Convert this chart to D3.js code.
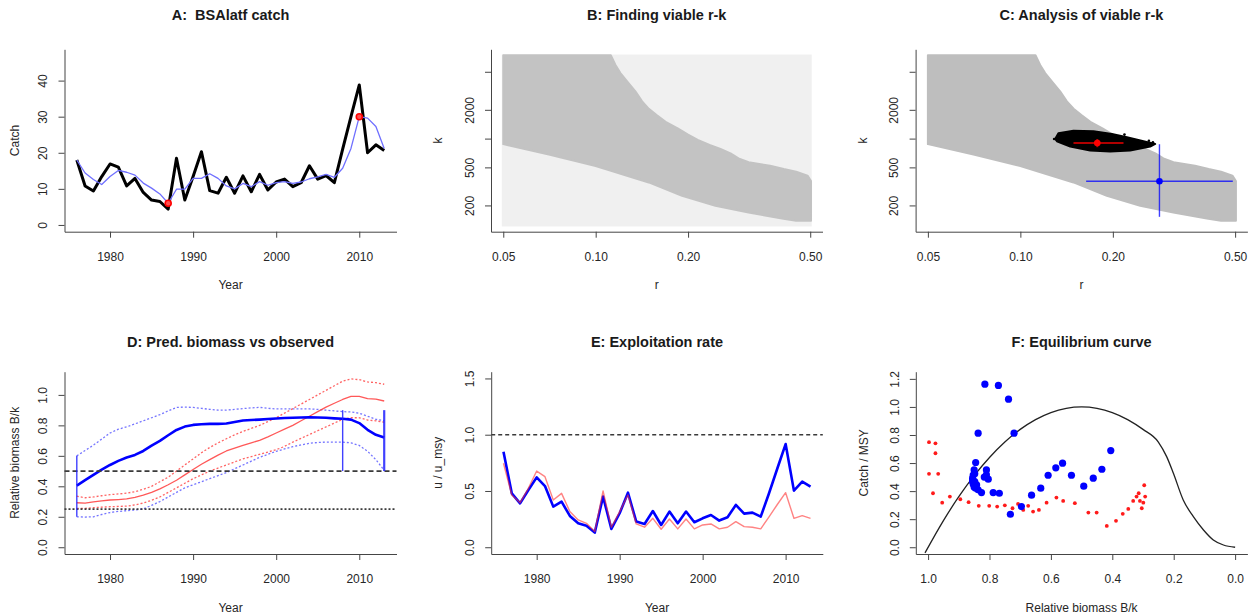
<!DOCTYPE html>
<html><head><meta charset="utf-8">
<script src="https://cdn.jsdelivr.net/npm/d3@7"></script>
<style>
body{margin:0;background:#fff;}
svg{display:block;font-family:"Liberation Sans",Arial,sans-serif;}
</style></head><body>
<script>
// ---------- data ----------
const years = [1976,1977,1978,1979,1980,1981,1982,1983,1984,1985,1986,1987,1988,1989,1990,1991,1992,1993,1994,1995,
  1996,1997,1998,1999,2000,2001,2002,2003,2004,2005,2006,2007,2008,2009,2010,2011,2012,2013];

// A: catch
const catchObs = [18,10.8,9.4,13.4,16.9,16,10.8,12.9,9,6.9,6.5,4.4,18.5,6.9,13.4,20.3,9.5,8.8,13.2,8.8,
  13.6,9.2,14,9.7,11.9,12.7,10.6,11.7,16.4,12.7,13.7,11.7,21,30,38.8,20,22.2,20.6];
const catchSmooth = [18,14.4,12.6,11.2,13.4,15.1,14.6,13.8,11.6,10.2,8.6,6,9.9,9.9,12.9,12.9,14.2,12.9,10.8,10,
  11.5,10.6,12,11,11.7,12,11.5,11.9,12.8,13.3,14,13.2,15.7,21.2,30,29.6,27.3,21.2];
const catchMarkYears = [1987, 2010];
const catchMarkValues = [6, 30];

// B, C: r-k space
const rTicks = [0.05, 0.1, 0.2, 0.5];
const rTickLabels = ["0.05", "0.10", "0.20", "0.50"];
const kTicks = [200, 500, 1000, 2000, 5000];
const kTickLabels = ["200", "500", "", "2000", ""];
const priorR = [0.05, 0.5];
const priorK = [125, 7300];
// outline of the viable r-k region
const viableR = [0.05,0.112,0.116,0.1204,0.1266,0.1347,0.1417,0.149,0.158,0.169,0.185,0.200,0.215,0.235,0.255,0.275,
  0.292,0.315,0.370,0.410,0.450,0.490,0.503,0.503,0.450,0.4045,0.3148,0.2455,0.1912,0.1489,0.100,0.0704,0.05];
const viableK = [7450,7450,5900,4840,3960,3120,2455,2050,1760,1500,1280,1100,970,860,780,700,
  620,565,520,480,450,410,360,138,138,146,169,198,252,348,515,682,875];
// outline of the accepted r-k cloud
const cloudR = [0.1298,0.1330,0.1489,0.173,0.1986,0.2222,0.2516,0.2747,0.2645,0.2277,0.196,0.1687,0.1453,0.1315];
const cloudK = [991,1135,1211,1191,1117,1032,938,879,826,751,733,751,826,938];
const strayR = [0.1288, 0.2182, 0.270, 0.262];
const strayK = [991, 1101, 916, 948];
const estR = [0.178, 0.2836];
const estK = [901, 358];
const estRLow = [0.1489, 0.1637];
const estRHigh = [0.2166, 0.4914];
const estKLow = [813, 152];
const estKHigh = [991, 873];

// D: relative biomass
const bkBsm = [0.405,0.44,0.475,0.51,0.54,0.567,0.589,0.606,0.632,0.667,0.698,0.735,0.77,0.792,0.803,0.807,0.81,0.81,0.812,0.822,
  0.832,0.835,0.838,0.842,0.845,0.848,0.85,0.852,0.853,0.852,0.85,0.846,0.843,0.838,0.815,0.771,0.738,0.72];
const bkBsmHi = [0.60,0.635,0.67,0.71,0.75,0.775,0.79,0.81,0.83,0.85,0.87,0.895,0.918,0.92,0.918,0.912,0.905,0.9,0.9,0.905,
  0.91,0.915,0.918,0.912,0.908,0.908,0.908,0.908,0.908,0.905,0.9,0.895,0.89,0.888,0.88,0.86,0.84,0.83];
const bkBsmLo = [0.2,0.198,0.2,0.215,0.228,0.235,0.24,0.245,0.252,0.275,0.3,0.33,0.36,0.39,0.41,0.43,0.45,0.47,0.49,0.515,
  0.54,0.565,0.59,0.61,0.63,0.645,0.66,0.672,0.682,0.688,0.69,0.69,0.69,0.685,0.668,0.63,0.575,0.505];
const bkCmsy = [0.292,0.29,0.298,0.305,0.31,0.313,0.317,0.328,0.342,0.36,0.383,0.41,0.44,0.475,0.51,0.545,0.575,0.605,0.632,0.65,
  0.668,0.685,0.702,0.725,0.75,0.775,0.8,0.83,0.86,0.89,0.92,0.945,0.97,0.99,0.99,0.975,0.972,0.96];
const bkCmsyHi = [0.335,0.325,0.33,0.338,0.345,0.35,0.355,0.365,0.38,0.4,0.43,0.46,0.5,0.54,0.58,0.62,0.655,0.685,0.712,0.738,
  0.76,0.78,0.8,0.825,0.85,0.88,0.91,0.94,0.97,1.0,1.03,1.06,1.09,1.105,1.1,1.085,1.08,1.07];
const bkCmsyLo = [0.255,0.255,0.26,0.263,0.266,0.268,0.27,0.278,0.29,0.308,0.33,0.36,0.39,0.42,0.45,0.475,0.5,0.52,0.54,0.56,
  0.58,0.595,0.61,0.625,0.64,0.662,0.69,0.715,0.74,0.765,0.79,0.815,0.84,0.85,0.85,0.835,0.83,0.82];
const bkPriorYears = [1976, 2008, 2013];
const bkPriorLow = [0.2, 0.5, 0.5];
const bkPriorHigh = [0.6, 0.9, 0.9];
const bkRefLines = [0.5, 0.25];

// E: exploitation rate
const uBsm = [0.849,0.479,0.39,0.509,0.621,0.544,0.361,0.405,0.278,0.213,0.192,0.13,0.45,0.163,0.302,0.485,0.228,0.207,0.322,0.198,
  0.317,0.213,0.317,0.222,0.257,0.287,0.237,0.266,0.376,0.299,0.308,0.272,0.48,0.70,0.917,0.503,0.583,0.538];
const uCmsy = [0.746,0.464,0.396,0.524,0.677,0.627,0.42,0.479,0.317,0.243,0.213,0.139,0.5,0.178,0.317,0.464,0.207,0.178,0.257,0.16,
  0.251,0.163,0.251,0.163,0.198,0.207,0.163,0.178,0.228,0.183,0.178,0.163,0.27,0.38,0.485,0.257,0.281,0.257];

// F: equilibrium curve
const eqB = [1.01,0.95,0.9,0.85,0.8,0.75,0.7,0.65,0.6,0.55,0.5,0.45,0.4,0.35,0.3,0.25,0.223,0.201,0.169,0.136,0.103,0.071,0.038,0];
const eqC = [-0.04,0.19,0.36,0.51,0.64,0.75,0.84,0.91,0.96,0.99,1.0,0.99,0.96,0.91,0.84,0.75,0.646,0.527,0.337,0.218,0.123,0.052,0.016,0];
const fBsmB = [0.405,0.434,0.462,0.493,0.533,0.562,0.584,0.609,0.633,0.663,0.696,0.732,0.768,0.788,0.804,0.81,0.81,0.817,0.826,0.837,
  0.842,0.845,0.848,0.85,0.853,0.855,0.853,0.855,0.855,0.853,0.85,0.848,0.845,0.837,0.815,0.771,0.738,0.72];
const fBsmC = [0.689,0.556,0.492,0.435,0.513,0.599,0.566,0.513,0.421,0.371,0.29,0.235,0.385,0.39,0.485,0.516,0.551,0.5,0.39,0.409,
  0.444,0.42,0.468,0.43,0.47,0.47,0.45,0.47,0.492,0.515,0.551,0.523,0.604,0.813,1.162,1.153,1.055,0.813];
const fCmsyB = [0.296,0.293,0.299,0.304,0.31,0.314,0.321,0.332,0.348,0.366,0.388,0.418,0.451,0.478,0.522,0.56,0.582,0.614,0.639,0.658,
  0.674,0.69,0.707,0.725,0.75,0.775,0.801,0.835,0.868,0.895,0.929,0.954,0.984,0.997,0.997,0.976,0.976,0.967];
const fCmsyC = [0.442,0.361,0.318,0.278,0.33,0.385,0.361,0.33,0.273,0.238,0.188,0.152,0.247,0.247,0.314,0.33,0.354,0.318,0.266,0.254,
  0.295,0.266,0.309,0.278,0.299,0.29,0.295,0.295,0.321,0.342,0.361,0.318,0.385,0.523,0.749,0.741,0.670,0.523];

// ---------- layout ----------
const W = 1256, H = 616;
const INK = "#262626", AXIS = "#454545";
const svg = d3.select("body").append("svg").attr("width", W).attr("height", H);
svg.append("rect").attr("width", W).attr("height", H).attr("fill", "#fff");

const boxA = {x0:64.5, x1:396.5, y0:49.3, y1:231.7, ty:15};
const boxB = {x0:491, x1:822.5, y0:49.3, y1:231.7, ty:15};
const boxC = {x0:915.6, x1:1247.4, y0:49.3, y1:231.7, ty:15};
const boxD = {x0:64.5, x1:396.5, y0:371.7, y1:554, ty:342.3};
const boxE = {x0:491.2, x1:822.8, y0:371.7, y1:554, ty:342.3};
const boxF = {x0:915.8, x1:1247.4, y0:371.7, y1:554, ty:342.3};

function padLin(lo, hi) { const s = (hi - lo) * 0.04; return [lo - s, hi + s]; }
function padLog(lo, hi) {
  const a = Math.log10(lo), b = Math.log10(hi), s = (b - a) * 0.04;
  return [Math.pow(10, a - s), Math.pow(10, b + s)];
}

// L-shaped frame with outward ticks, rotated y labels and titles
function frame(box, xs, ys, o) {
  const g = svg.append("g");
  const ax = g.append("g").attr("transform", `translate(0,${box.y1})`)
    .call(d3.axisBottom(xs).tickValues(o.xt).tickFormat((d, i) => o.xl[i]).tickSize(6).tickSizeOuter(0));
  const ay = g.append("g").attr("transform", `translate(${box.x0},0)`)
    .call(d3.axisLeft(ys).tickValues(o.yt).tickFormat((d, i) => o.yl[i]).tickSize(6).tickSizeOuter(0));
  [ax, ay].forEach(a => {
    a.attr("font-family", null).attr("font-size", 12).attr("color", AXIS);
    a.selectAll("text").attr("fill", INK);
  });
  ax.selectAll("text").attr("y", 25).attr("dy", "0.35em");
  ay.selectAll("text").attr("x", 0).attr("y", -21.5).attr("dy", "0.35em")
    .attr("text-anchor", "middle").attr("transform", "rotate(-90)");
  const cx = (box.x0 + box.x1) / 2, cy = (box.y0 + box.y1) / 2;
  g.append("text").attr("x", cx).attr("y", box.y1 + 53.5).attr("dy", "0.35em")
    .attr("text-anchor", "middle").attr("font-size", 12).attr("fill", INK).text(o.xlab);
  g.append("text").attr("transform", `translate(${box.x0 - o.ylabOff},${cy}) rotate(-90)`).attr("dy", "0.35em")
    .attr("text-anchor", "middle").attr("font-size", 12).attr("fill", INK).text(o.ylab);
  g.append("text").attr("x", cx).attr("y", box.ty).attr("dy", "0.35em")
    .attr("text-anchor", "middle").attr("font-size", 14.5).attr("font-weight", "bold")
    .attr("fill", "#1a1a1a").style("white-space", "pre").text(o.title);
}

const yearTicks = [1980, 1990, 2000, 2010];
const yearLabels = ["1980", "1990", "2000", "2010"];

// ---------- A: catch ----------
{
  const x = d3.scaleLinear().domain(padLin(1976, 2013)).range([boxA.x0, boxA.x1]);
  const y = d3.scaleLinear().domain(padLin(0, 46.8)).range([boxA.y1, boxA.y0]);
  const line = d3.line().x((d, i) => x(years[i])).y(d => y(d));
  svg.append("path").attr("d", line(catchObs)).attr("fill", "none").attr("stroke", "#000")
    .attr("stroke-width", 3).attr("stroke-linejoin", "round");
  svg.append("path").attr("d", line(catchSmooth)).attr("fill", "none").attr("stroke", "#6f6fff")
    .attr("stroke-width", 1.3).attr("stroke-linejoin", "round");
  svg.selectAll(null).data(catchMarkYears).join("circle")
    .attr("cx", d => x(d)).attr("cy", (d, i) => y(catchMarkValues[i])).attr("r", 3)
    .attr("fill", "#ff5050").attr("stroke", "#ff0000").attr("stroke-width", 1.6);
  frame(boxA, x, y, {xt: yearTicks, xl: yearLabels, yt: [0,10,20,30,40], yl: ["0","10","20","30","40"],
    xlab: "Year", ylab: "Catch", ylabOff: 50, title: "A:  BSAlatf catch"});
}

// shared r-k scales
function rkScales(box) {
  return {
    x: d3.scaleLog().domain(padLog(priorR[0], priorR[1])).range([box.x0, box.x1]),
    y: d3.scaleLog().domain(padLog(priorK[0], priorK[1])).range([box.y1, box.y0])
  };
}
function polyPath(sx, sy, rs, ks) {
  return d3.line().x(d => sx(d)).y((d, i) => sy(ks[i])).curve(d3.curveLinearClosed)(rs);
}

// ---------- B: viable r-k ----------
{
  const {x, y} = rkScales(boxB);
  svg.append("rect").attr("x", x(priorR[0]) - 1.5).attr("y", y(priorK[1]) - 1.5)
    .attr("width", x(priorR[1]) - x(priorR[0]) + 3).attr("height", y(priorK[0]) - y(priorK[1]) + 3)
    .attr("fill", "#f0f0f0");
  svg.append("path").attr("d", polyPath(x, y, viableR, viableK)).attr("fill", "#c3c3c3")
    .attr("stroke", "#c3c3c3").attr("stroke-width", 2).attr("stroke-linejoin", "round");
  frame(boxB, x, y, {xt: rTicks, xl: rTickLabels, yt: kTicks, yl: kTickLabels,
    xlab: "r", ylab: "k", ylabOff: 53, title: "B: Finding viable r-k"});
}

// ---------- C: analysis of viable r-k ----------
{
  const {x, y} = rkScales(boxC);
  svg.append("path").attr("d", polyPath(x, y, viableR, viableK)).attr("fill", "#bebebe")
    .attr("stroke", "#bebebe").attr("stroke-width", 2).attr("stroke-linejoin", "round");
  svg.append("path").attr("d", polyPath(x, y, cloudR, cloudK)).attr("fill", "#000")
    .attr("stroke", "#000").attr("stroke-width", 2).attr("stroke-linejoin", "round");
  svg.selectAll(null).data(strayR).join("circle")
    .attr("cx", d => x(d)).attr("cy", (d, i) => y(strayK[i])).attr("r", 1.3).attr("fill", "#000");
  const cols = ["#b00000", "#0000ff"], dots = ["#ff0000", "#0000ff"];
  estR.forEach((r, i) => {
    svg.append("line").attr("x1", x(estRLow[i])).attr("x2", x(estRHigh[i]))
      .attr("y1", y(estK[i])).attr("y2", y(estK[i])).attr("stroke", cols[i]).attr("stroke-width", i ? 1.4 : 2)
      .attr("stroke-opacity", i ? 0.75 : 1);
    svg.append("line").attr("x1", x(r)).attr("x2", x(r))
      .attr("y1", y(estKLow[i])).attr("y2", y(estKHigh[i])).attr("stroke", cols[i]).attr("stroke-width", i ? 1.4 : 2)
      .attr("stroke-opacity", i ? 0.75 : 1);
    svg.append("circle").attr("cx", x(r)).attr("cy", y(estK[i])).attr("r", 3.3).attr("fill", dots[i]);
  });
  frame(boxC, x, y, {xt: rTicks, xl: rTickLabels, yt: kTicks, yl: kTickLabels,
    xlab: "r", ylab: "k", ylabOff: 53, title: "C: Analysis of viable r-k"});
}

// ---------- D: predicted biomass ----------
{
  const x = d3.scaleLinear().domain(padLin(1976, 2013)).range([boxD.x0, boxD.x1]);
  const y = d3.scaleLinear().domain(padLin(0, 1.108)).range([boxD.y1, boxD.y0]);
  const line = d3.line().x((d, i) => x(years[i])).y(d => y(d));
  const draw = (arr, col, w, dash, op) => svg.append("path").attr("d", line(arr)).attr("fill", "none")
    .attr("stroke", col).attr("stroke-width", w).attr("stroke-dasharray", dash).attr("stroke-opacity", op)
    .attr("stroke-linejoin", "round");
  draw(bkBsmHi, "#3b3bff", 1.3, "2,2", 0.7);
  draw(bkBsmLo, "#3b3bff", 1.3, "2,2", 0.7);
  draw(bkCmsyHi, "#ff3030", 1.3, "2,2", 0.75);
  draw(bkCmsyLo, "#ff3030", 1.3, "2,2", 0.75);
  draw(bkCmsy, "#ff3b3b", 1.3, null, 0.85);
  draw(bkBsm, "#0000ff", 2.6, null, 1);
  bkRefLines.forEach((v, i) => svg.append("line").attr("x1", boxD.x0).attr("x2", boxD.x1)
    .attr("y1", y(v)).attr("y2", y(v)).attr("stroke", "#3a3a3a").attr("stroke-width", 1.6)
    .attr("stroke-dasharray", i ? "2,2" : "5,3"));
  bkPriorYears.forEach((yr, i) => svg.append("line").attr("x1", x(yr)).attr("x2", x(yr))
    .attr("y1", y(bkPriorLow[i])).attr("y2", y(bkPriorHigh[i])).attr("stroke", "#2020ff")
    .attr("stroke-width", i === 2 ? 2.2 : 1.4).attr("stroke-opacity", 0.85));
  frame(boxD, x, y, {xt: yearTicks, xl: yearLabels, yt: [0,0.2,0.4,0.6,0.8,1.0],
    yl: ["0.0","0.2","0.4","0.6","0.8","1.0"], xlab: "Year", ylab: "Relative biomass B/k", ylabOff: 50,
    title: "D: Pred. biomass vs observed"});
}

// ---------- E: exploitation rate ----------
{
  const x = d3.scaleLinear().domain(padLin(1976, 2013)).range([boxE.x0, boxE.x1]);
  const y = d3.scaleLinear().domain(padLin(0, 1.5)).range([boxE.y1, boxE.y0]);
  const line = d3.line().x((d, i) => x(years[i])).y(d => y(d));
  svg.append("line").attr("x1", boxE.x0).attr("x2", boxE.x1).attr("y1", y(1)).attr("y2", y(1))
    .attr("stroke", "#3a3a3a").attr("stroke-width", 1.4).attr("stroke-dasharray", "4,3");
  svg.append("path").attr("d", line(uBsm)).attr("fill", "none").attr("stroke", "#0000ff")
    .attr("stroke-width", 2.6).attr("stroke-linejoin", "round");
  svg.append("path").attr("d", line(uCmsy)).attr("fill", "none").attr("stroke", "#ff3030")
    .attr("stroke-width", 1.4).attr("stroke-opacity", 0.6).attr("stroke-linejoin", "round");
  frame(boxE, x, y, {xt: yearTicks, xl: yearLabels, yt: [0,0.5,1.0,1.5], yl: ["0.0","0.5","1.0","1.5"],
    xlab: "Year", ylab: "u / u_msy", ylabOff: 53, title: "E: Exploitation rate"});
}

// ---------- F: equilibrium curve ----------
{
  const x = d3.scaleLinear().domain(padLin(0, 1).reverse()).range([boxF.x0, boxF.x1]);
  const y = d3.scaleLinear().domain(padLin(0, 1.203)).range([boxF.y1, boxF.y0]);
  svg.append("path").attr("d", d3.line().x(d => x(d)).y((d, i) => y(eqC[i])).curve(d3.curveMonotoneX)(eqB))
    .attr("fill", "none").attr("stroke", "#222").attr("stroke-width", 1.3);
  svg.selectAll(null).data(fCmsyB).join("circle")
    .attr("cx", d => x(d)).attr("cy", (d, i) => y(fCmsyC[i])).attr("r", 1.9).attr("fill", "#ff1a1a");
  svg.selectAll(null).data(fBsmB).join("circle")
    .attr("cx", d => x(d)).attr("cy", (d, i) => y(fBsmC[i])).attr("r", 3.6).attr("fill", "#0000ff");
  frame(boxF, x, y, {xt: [1,0.8,0.6,0.4,0.2,0], xl: ["1.0","0.8","0.6","0.4","0.2","0.0"],
    yt: [0,0.2,0.4,0.6,0.8,1.0,1.2], yl: ["0.0","0.2","0.4","0.6","0.8","1.0","1.2"],
    xlab: "Relative biomass B/k", ylab: "Catch / MSY", ylabOff: 52, title: "F: Equilibrium curve"});
}
</script></body></html>
